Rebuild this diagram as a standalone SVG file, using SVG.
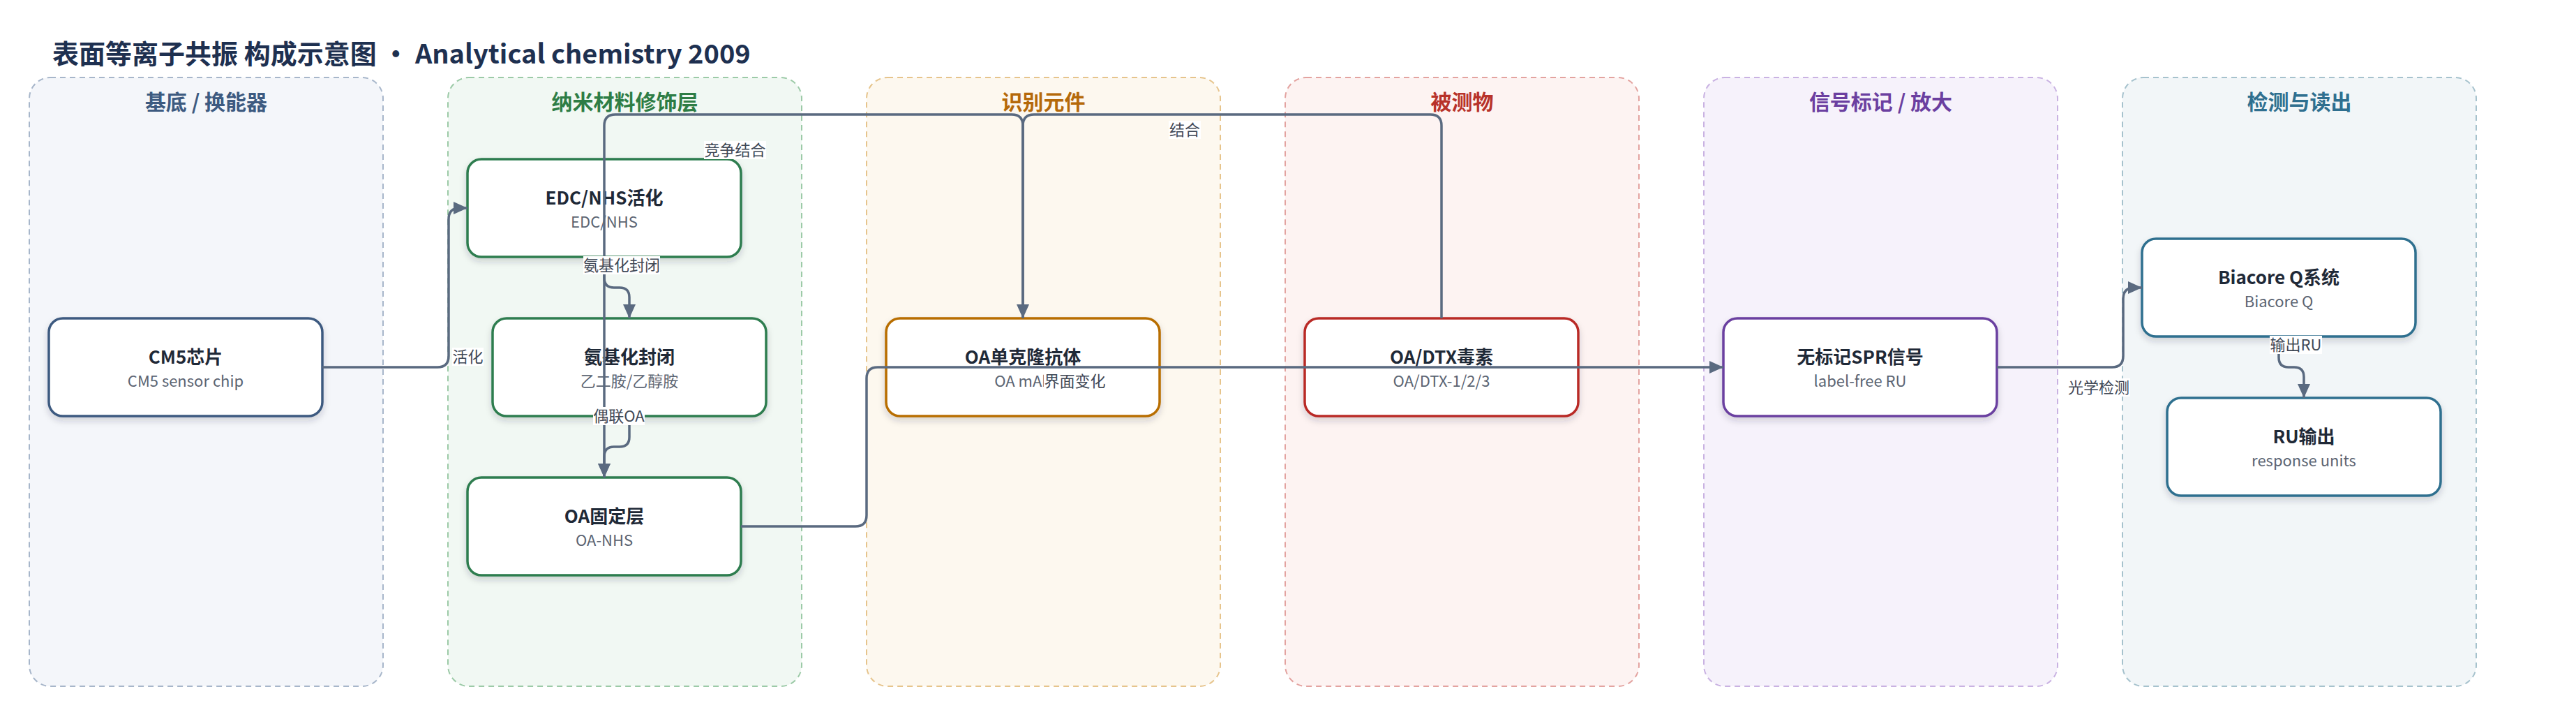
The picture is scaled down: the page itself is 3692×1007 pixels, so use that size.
<svg xmlns="http://www.w3.org/2000/svg" width="3692" height="1007" viewBox="0 0 3692 1007">
<defs>
<style>
text{font-family:"Noto Sans CJK SC","Noto Sans",sans-serif}
.title{font-size:38px;font-weight:700;fill:#1e3050}
.lane{stroke-width:2;stroke-dasharray:8 6}
.lt{font-size:30px;font-weight:700;text-anchor:middle}
.node{fill:#fff;stroke-width:3.5;filter:url(#sh)}
.nt{font-size:26px;font-weight:700;fill:#1f2937;text-anchor:middle}
.ns{font-size:22px;fill:#5b6472;text-anchor:middle}
.edge{fill:none;stroke:#5a6a80;stroke-width:3.5;marker-end:url(#arr)}
.lb{fill:#fff}
.el{font-size:22px;fill:#3f4856;text-anchor:middle}
</style>
<filter id="sh" x="-10%" y="-20%" width="120%" height="150%">
<feDropShadow dx="0" dy="5" stdDeviation="5" flood-color="#1e293b" flood-opacity="0.18"/>
</filter>
<marker id="arr" markerUnits="userSpaceOnUse" markerWidth="20" markerHeight="18" refX="20" refY="9" orient="auto">
<path d="M0,0 L20,9 L0,18 z" fill="#5a6a80"/>
</marker>
</defs>
<rect width="3692" height="1007" fill="#fff"/>
<text class="title" x="75" y="91">表面等离子共振 构成示意图 · Analytical chemistry 2009</text>

<g id="lanes">
<g id="lane-substrate"><rect class="lane" x="42" y="111" width="507" height="872" rx="30" fill="#f4f6fa" stroke="#a7b6ca"/><text class="lt" x="295.5" y="157" fill="#3d5a80">基底 / 换能器</text></g>
<g id="lane-nano"><rect class="lane" x="642" y="111" width="507" height="872" rx="30" fill="#f1f8f3" stroke="#9ccaa7"/><text class="lt" x="895.5" y="157" fill="#2e7d45">纳米材料修饰层</text></g>
<g id="lane-recog"><rect class="lane" x="1242" y="111" width="507" height="872" rx="30" fill="#fdf8ef" stroke="#e6c48c"/><text class="lt" x="1495.5" y="157" fill="#b5690a">识别元件</text></g>
<g id="lane-analyte"><rect class="lane" x="1842" y="111" width="507" height="872" rx="30" fill="#fdf3f2" stroke="#e3a3a0"/><text class="lt" x="2095.5" y="157" fill="#b8322a">被测物</text></g>
<g id="lane-signal"><rect class="lane" x="2442" y="111" width="507" height="872" rx="30" fill="#f6f2fb" stroke="#c9b2e2"/><text class="lt" x="2695.5" y="157" fill="#6b3fa0">信号标记 / 放大</text></g>
<g id="lane-detect"><rect class="lane" x="3042" y="111" width="507" height="872" rx="30" fill="#f2f6f8" stroke="#a6c2cd"/><text class="lt" x="3295.5" y="157" fill="#2f6f8f">检测与读出</text></g>
</g>

<g id="n-cm5"><rect class="node" x="70" y="456" width="392" height="140" rx="20" stroke="#3d5a80"/><text class="nt" x="266" y="521">CM5芯片</text><text class="ns" x="266" y="554">CM5 sensor chip</text></g>
<g id="n-edc"><rect class="node" x="670" y="228" width="392" height="140" rx="20" stroke="#2e7d4f"/><text class="nt" x="866" y="293">EDC/NHS活化</text><text class="ns" x="866" y="326">EDC/NHS</text></g>
<g id="n-block"><rect class="node" x="706" y="456" width="392" height="140" rx="20" stroke="#2e7d4f"/><text class="nt" x="902" y="521">氨基化封闭</text><text class="ns" x="902" y="554">乙二胺/乙醇胺</text></g>
<g id="n-oa"><rect class="node" x="670" y="684" width="392" height="140" rx="20" stroke="#2e7d4f"/><text class="nt" x="866" y="749">OA固定层</text><text class="ns" x="866" y="782">OA-NHS</text></g>
<g id="n-mab"><rect class="node" x="1270" y="456" width="392" height="140" rx="20" stroke="#b86e00"/><text class="nt" x="1466" y="521">OA单克隆抗体</text><text class="ns" x="1466" y="554">OA mAb</text></g>
<g id="n-dtx"><rect class="node" x="1870" y="456" width="392" height="140" rx="20" stroke="#b92b27"/><text class="nt" x="2066" y="521">OA/DTX毒素</text><text class="ns" x="2066" y="554">OA/DTX-1/2/3</text></g>
<g id="n-spr"><rect class="node" x="2470" y="456" width="392" height="140" rx="20" stroke="#6b3fa0"/><text class="nt" x="2666" y="521">无标记SPR信号</text><text class="ns" x="2666" y="554">label-free RU</text></g>
<g id="n-biacore"><rect class="node" x="3070" y="342" width="392" height="140" rx="20" stroke="#2f6f8f"/><text class="nt" x="3266" y="407">Biacore Q系统</text><text class="ns" x="3266" y="440">Biacore Q</text></g>
<g id="n-ru"><rect class="node" x="3106" y="570" width="392" height="140" rx="20" stroke="#2f6f8f"/><text class="nt" x="3302" y="635">RU输出</text><text class="ns" x="3302" y="668">response units</text></g>

<g id="connectors">
<path class="edge" d="M462,526 H627 Q643,526 643,510 V314 Q643,298 659,298 H670"/>
<path class="edge" d="M866,368 V398 Q866,412 880,412 H888 Q902,412 902,426 V456"/>
<path class="edge" d="M902,596 V626 Q902,640 888,640 H880 Q866,640 866,654 V684"/>
<path class="edge" d="M1466,456 V180 Q1466,164 1450,164 H882 Q866,164 866,180 V684"/>
<path class="edge" d="M2066,456 V180 Q2066,164 2050,164 H1482 Q1466,164 1466,180 V456"/>
<path class="edge" d="M1062,754 H1226 Q1242,754 1242,738 V542 Q1242,526 1258,526 H2470"/>
<path class="edge" d="M2862,526 H3027 Q3043,526 3043,510 V428 Q3043,412 3059,412 H3070"/>
<path class="edge" d="M3266,482 V512 Q3266,526 3280,526 H3288 Q3302,526 3302,540 V570"/>
</g>

<g id="edge-labels">
<rect class="lb" x="648" y="498" width="45" height="26"/><text class="el" x="670.5" y="519">活化</text>
<rect class="lb" x="836" y="367" width="110" height="26"/><text class="el" x="891" y="388">氨基化封闭</text>
<rect class="lb" x="850" y="583" width="74" height="26"/><text class="el" x="887" y="604">偶联OA</text>
<rect class="lb" x="1009" y="202" width="89" height="26"/><text class="el" x="1053.5" y="223">竞争结合</text>
<rect class="lb" x="1675" y="173" width="46" height="26"/><text class="el" x="1698" y="194">结合</text>
<rect class="lb" x="1496" y="533" width="89" height="26"/><text class="el" x="1540.5" y="554">界面变化</text>
<rect class="lb" x="2963" y="542" width="90" height="26"/><text class="el" x="3008" y="563">光学检测</text>
<rect class="lb" x="3253" y="481" width="75" height="26"/><text class="el" x="3290.5" y="502">输出RU</text>
</g>
</svg>
